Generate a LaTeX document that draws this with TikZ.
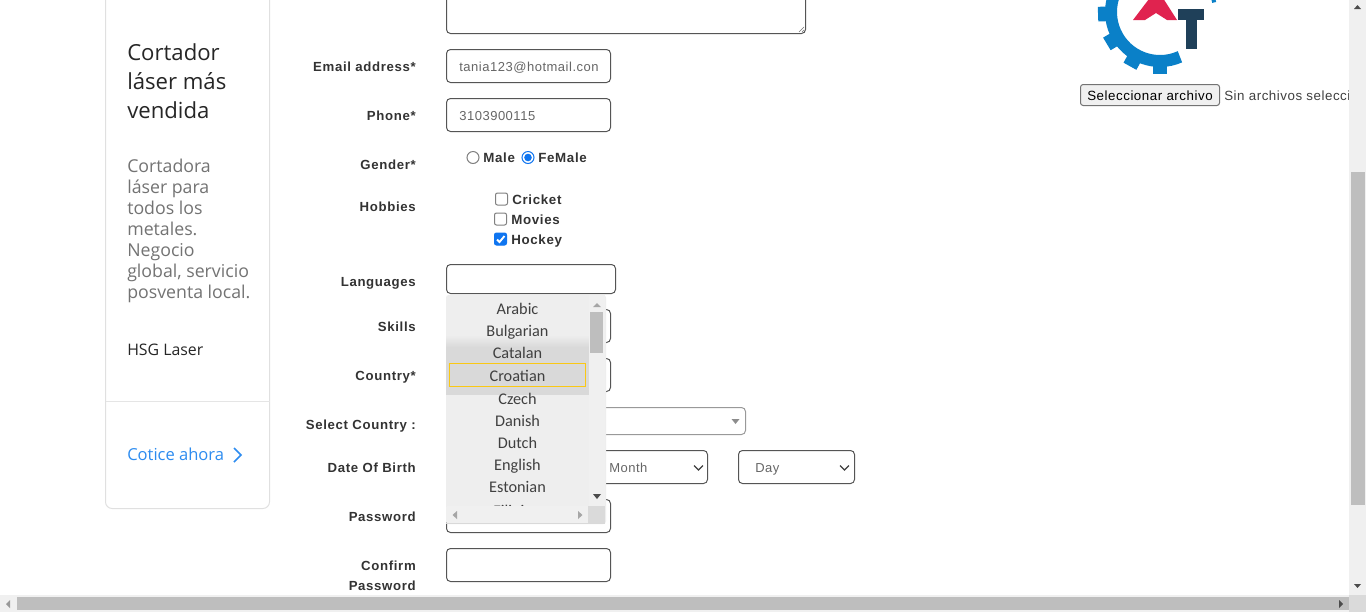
\documentclass[tikz,border=0pt]{standalone}
\usepackage{fontspec}
\setmainfont{Liberation Sans}
\newfontfamily\lblfont[LetterSpace=5]{Liberation Sans}
\newfontfamily\inpfont[LetterSpace=4]{Liberation Sans}
\newfontfamily\adfont{Open Sans}
\newfontfamily\listfont{Carlito}
\newcommand{\pxsize}[1]{\fontsize{#1}{#1}\selectfont}
\definecolor{ink}{HTML}{333333}
\definecolor{boxline}{HTML}{555555}
\definecolor{barbg}{HTML}{F0F0F0}
\definecolor{barthumb}{HTML}{BEBEBE}
\definecolor{barcorner}{HTML}{DADADA}
\definecolor{listbg}{HTML}{EEEEEE}
\definecolor{listhi}{HTML}{D9D9D9}
\definecolor{chkblue}{HTML}{0F75F0}
\definecolor{gearblue}{HTML}{0A80C8}
\definecolor{logored}{HTML}{E0234F}
\definecolor{logonavy}{HTML}{1F4059}
\definecolor{adblue}{HTML}{2D8CF0}
\begin{document}
\begin{tikzpicture}[x=.75pt,y=-.75pt,
  field/.style={draw=boxline,fill=white,line width=.75pt,rounded corners=3pt},
  formlbl/.style={anchor=base east,inner sep=0pt,font=\lblfont\bfseries\pxsize{9.9},text=ink},
  inptxt/.style={anchor=base west,inner sep=0pt,font=\inpfont\pxsize{9.75},text=black!60},
  chktxt/.style={anchor=base west,inner sep=0pt,font=\lblfont\bfseries\pxsize{10},text=ink},
  listitem/.style={inner sep=0pt,text height=8pt,text depth=3pt,font=\listfont\pxsize{12.2},text=black!75},
  adhead/.style={anchor=base west,inner sep=0pt,font=\adfont\pxsize{16.6},text=black!85},
  adbody/.style={anchor=base west,inner sep=0pt,font=\adfont\pxsize{13.3},text=black!55},
  chkbox/.style={draw=black!50,fill=white,line width=.75pt,rounded corners=1.5pt},
  arrowtip/.style={fill=black!70,draw=none}]
\useasboundingbox (0,0) rectangle (1366,612);
\fill[white] (0,0) rectangle (1366,612);

% ad card
\draw[draw=black!12,line width=.75pt,rounded corners=5pt] (105.5,-20) rectangle (269.5,508.5);
\draw[draw=black!10,line width=.75pt] (105.5,401.5) -- (269.5,401.5);
\foreach \name/\y/\txt in {hda/60/Cortador,hdb/89/láser más,hdc/118/vendida}
  \node[adhead] (\name) at (127,\y) {\txt};
\foreach \name/\y/\txt in {bda/172/Cortadora,bdb/193/láser para,bdc/214/todos los,bdd/235/metales.,bde/256/Negocio,bdf/277/{global, servicio},bdg/298/posventa local.}
  \node[adbody] (\name) at (127,\y) {\txt};
\node[anchor=base west,inner sep=0pt,font=\adfont\pxsize{11.9},text=black!85] (brand) at (127,355) {HSG Laser};
\node[anchor=base west,inner sep=0pt,font=\adfont\pxsize{12.4},text=adblue] (cotice) at (127,460) {Cotice ahora};
\draw[adblue,line width=1.1pt] (234,448) -- (241,455) -- (234,462);

% form fields
\draw[field] (446.5,-20) rectangle (805.5,33.5);
\draw[black!55,line width=.5pt] (799,32) -- (804,27) (802,32) -- (804,30);
\draw[field] (446.5,49.5) rectangle (610.5,82.5);
\draw[field] (446.5,98.5) rectangle (610.5,131.5);
\draw[field] (446.5,264.5) rectangle (615.5,293.5);
\draw[field] (446.5,309.5) rectangle (610.5,342.5);
\draw[field] (446.5,358.5) rectangle (610.5,391.5);
\draw[field,draw=black!40] (446.5,407.5) rectangle (745.5,434.5);
\draw[field] (446.5,450.5) rectangle (707.5,483.5);
\draw[field] (738.5,450.5) rectangle (854.5,483.5);
\draw[field] (446.5,499.5) rectangle (610.5,532.5);
\draw[field] (446.5,548.5) rectangle (610.5,581.5);
\fill[black!45] (731.5,419) -- (739.5,419) -- (735.5,424) -- cycle;
\draw[black!75,line width=1pt] (694,465.5) -- (698.5,470) -- (703,465.5);
\draw[black!75,line width=1pt] (840,465.5) -- (844.5,470) -- (849,465.5);

\node[formlbl] (emaillbl) at (416,71) {Email address*};
\node[formlbl] (phonelbl) at (416,120) {Phone*};
\node[formlbl] (genderlbl) at (416,169) {Gender*};
\node[formlbl] (hobbylbl) at (416,211) {Hobbies};
\node[formlbl] (langlbl) at (416,286) {Languages};
\node[formlbl] (skilllbl) at (416,331) {Skills};
\node[formlbl] (countrylbl) at (416,380) {Country*};
\node[formlbl] (selectlbl) at (416,429) {Select Country :};
\node[formlbl] (doblbl) at (416,472) {Date Of Birth};
\node[formlbl] (passlbl) at (416,521) {Password};
\node[formlbl] (conflbl) at (416,570) {Confirm};
\node[formlbl] (conftwolbl) at (416,590) {Password};

\node[inptxt] (emailtxt) at (459,71) {tania123@hotmail.con};
\node[inptxt] (phonetxt) at (459,120) {3103900115};
\node[inptxt] (monthtxt) at (609,472) {Month};
\node[inptxt] (daytxt) at (755,472) {Day};

% gender and hobbies
\draw[chkbox] (473,157.5) circle (6);
\draw[chkbox,draw=chkblue] (528,157.5) circle (6);
\fill[chkblue] (528,157.5) circle (3.8);
\node[chktxt] (maletxt) at (483,162) {Male};
\node[chktxt] (femaletxt) at (538,162) {FeMale};
\draw[chkbox] (495.5,193) rectangle (507.5,205);
\draw[chkbox] (494.5,213) rectangle (506.5,225);
\draw[chkbox,fill=chkblue,draw=chkblue] (494.5,233) rectangle (506.5,245);
\draw[white,line width=1.4pt] (497,239.5) -- (499.5,242) -- (504.5,236);
\node[chktxt] (crickettxt) at (512,204) {Cricket};
\node[chktxt] (moviestxt) at (511,224) {Movies};
\node[chktxt] (hockeytxt) at (511,244) {Hockey};

% dropdown list
\fill[listbg,rounded corners=2pt] (446,295) rectangle (606,524);
\fill[listhi] (446,347) rectangle (589,395);
\shade[top color=listbg,bottom color=listhi] (446,335) rectangle (589,347);
\fill[barbg] (589,295) rectangle (605,506);
\fill[barthumb] (590,312) rectangle (603,353);
\fill[arrowtip,black!35] (593,307) -- (601,307) -- (597,303) -- cycle;
\fill[arrowtip] (593,494) -- (601,494) -- (597,499) -- cycle;
\foreach \name/\y/\txt in {arabic/311/Arabic,bulgarian/333/Bulgarian,catalan/355/Catalan,croatian/378/Croatian,czech/401/Czech,danish/423/Danish,dutch/445/Dutch,english/467/English,estonian/489/Estonian,filipino/513/Filipino}
  \node[listitem] (\name) at (517.5,\y) {\txt};
\draw[draw={rgb,255:red,250;green,200;blue,20},line width=.6pt] (449.5,363.5) rectangle (585.5,386.5);
\fill[barbg,rounded corners=1pt] (446,506) rectangle (589,523);
\fill[barcorner] (588,506) rectangle (605,523);
\draw[black!15,line width=.6pt] (446,523.5) -- (605,523.5);
\fill[black!35] (457,511) -- (457,519) -- (452.5,515) -- cycle;
\fill[black!35] (578,511) -- (578,519) -- (582.5,515) -- cycle;

% logo
\draw[gearblue,line width=9pt] (1160,12) ++(66:49) arc (66:235:49);
\draw[gearblue,line width=3pt] (1160,12) ++(-22:55) arc (-22:-10:55);
\foreach \a in {90,119,149,178}
  \draw[gearblue,line width=11pt] (1160,12) ++(\a:50) -- ++(\a:12);
\fill[logored] (1133,20) -- (1152,-5) -- (1161,-5) -- (1177,20) -- (1167,20) -- (1156,13) -- (1145,20) -- cycle;
\fill[logonavy] (1178,9) rectangle (1204,20);
\fill[logonavy] (1186,20) rectangle (1197,49);

% file input
\draw[draw=black!55,fill=barbg,line width=.75pt,rounded corners=2pt] (1080.5,84.5) rectangle (1219.5,105.5);
\node[inner sep=0pt,text height=7pt,text depth=2pt,font=\inpfont\pxsize{10},text=black] (filebtn) at (1150,97) {Seleccionar archivo};
\node[anchor=west,inner sep=0pt,text height=7pt,text depth=2pt,font=\inpfont\pxsize{10},text=black!75] (filetxt) at (1224,97) {Sin archivos selecci};

% page scrollbars
\fill[barbg] (1349,0) rectangle (1366,595);
\fill[barthumb] (1351,172) rectangle (1365,505);
\fill[barbg] (0,595) rectangle (1349,612);
\fill[barthumb] (17,597) rectangle (1349,610);
\fill[barcorner] (1349,595) rectangle (1366,612);
\fill[arrowtip] (1354,9) -- (1361,9) -- (1357.5,5) -- cycle;
\fill[arrowtip] (1354,584) -- (1361,584) -- (1357.5,588) -- cycle;
\fill[black!40] (10,600) -- (10,608) -- (6,604) -- cycle;
\fill[arrowtip] (1339,600) -- (1339,608) -- (1343,604) -- cycle;
\end{tikzpicture}
\end{document}
